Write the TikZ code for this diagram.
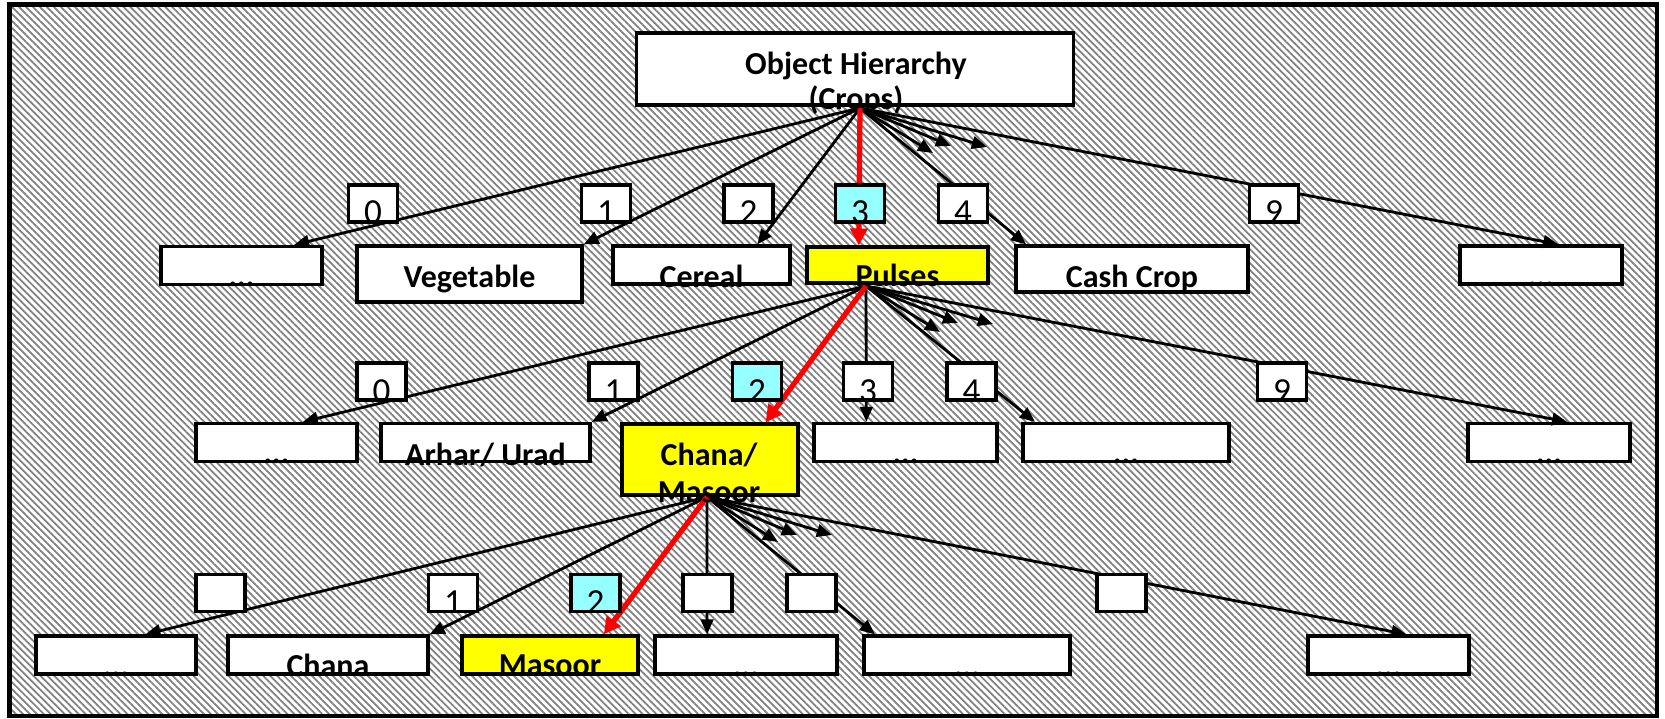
\documentclass[tikz,border=0pt]{standalone}
\usepackage{fontspec}
\setmainfont{Carlito}
\usetikzlibrary{arrows.meta, calc, patterns.meta}

\definecolor{hiyellow}{RGB}{255,255,0}
\definecolor{hicyan}{RGB}{150,255,255}

\tikzset{
	box/.style = {draw, fill=white, line width=0.9pt, inner sep=0pt, minimum height=0.38cm},
	numbox/.style = {box, minimum width=0.49cm, minimum height=0.37cm},
	lbl/.style = {font=\fontsize{9.1}{10}\selectfont\bfseries, anchor=base, inner sep=0pt},
	dots/.style = {lbl, yshift=-0.03cm},
	dig/.style = {font=\fontsize{10}{11}\selectfont, anchor=base, inner sep=0pt},
	link/.style = {line width=0.8pt, -{Triangle[length=4.3pt, width=3.6pt]}},
	hot/.style = {red, line width=1.5pt, -{Triangle[length=4.8pt, width=4.8pt]}}
}

\begin{document}
\begin{tikzpicture}[x=0.01cm, y=-0.01cm]
	\useasboundingbox (0,0) rectangle (1665,719);
	% hatched background and frame
	\fill[pattern={Lines[angle=-45, distance=1.4pt, line width=0.5pt]}, pattern color=gray] (9,4) rectangle (1657,716);
	\draw[line width=1.4pt] (9.5,4.5) rectangle (1657,716);

	% level 0
	\node[box, minimum width=4.36cm, minimum height=0.72cm] (root) at (855,69) {};
	\coordinate (o1) at (860,108);

	% level 1
	\node[box, minimum width=1.61cm] (crA) at (241.5,265.5) {};
	\node[box, minimum width=2.25cm, minimum height=0.56cm] (veg) at (469.5,274) {};
	\node[box, minimum width=1.77cm] (cer) at (701.5,265) {};
	\node[box, fill=hiyellow, minimum width=1.81cm, minimum height=0.36cm] (pul) at (897.5,265) {};
	\node[box, minimum width=2.32cm, minimum height=0.46cm] (cash) at (1132,269) {};
	\node[box, minimum width=1.62cm] (crZ) at (1541,265) {};
	\coordinate (o2) at (866,286);

	% level 2
	\node[box, minimum width=1.61cm] (puA) at (276.5,442.5) {};
	\node[box, minimum width=2.09cm] (arh) at (485.5,442.5) {};
	\node[box, fill=hiyellow, minimum width=1.76cm, minimum height=0.71cm] (chm) at (710,459.5) {};
	\node[box, minimum width=1.83cm] (puC) at (905.5,442.5) {};
	\node[box, minimum width=2.06cm] (puD) at (1126,442.5) {};
	\node[box, minimum width=1.62cm] (puZ) at (1549,442.5) {};
	\coordinate (o3) at (707,497);

	% level 3
	\node[box, minimum width=1.60cm] (cmA) at (116,655) {};
	\node[box, minimum width=2.00cm] (chana) at (328,655) {};
	\node[box, fill=hiyellow, minimum width=1.76cm] (mas) at (550,655) {};
	\node[box, minimum width=1.82cm] (cmC) at (746,655) {};
	\node[box, minimum width=2.06cm] (cmD) at (967,655) {};
	\node[box, minimum width=1.61cm] (cmZ) at (1388.5,655) {};

	% connectors, crops
	\draw[link] (o1) -- ($(crA.north west)!.82!(crA.north east)$);
	\draw[link] (o1) -- (veg.north east);
	\draw[link] (o1) -- ($(cer.north west)!.81!(cer.north east)$);
	\draw[link] (o1) -- ($(cash.north west)!.05!(cash.north east)$);
	\draw[link] (o1) -- ($(crZ.north west)!.605!(crZ.north east)$);
	\foreach \dx/\dy in {73/45, 91/38, 127/39}
		\draw[link] (o1) -- ++(\dx,\dy);
	\draw[hot] (o1) -- ($(pul.north west)!.29!(pul.north east)$);

	% connectors, pulses
	\draw[link] (o2) -- ($(puA.north west)!.66!(puA.north east)$);
	\draw[link] (o2) -- (arh.north east);
	\draw[link] (o2) -- ($(puC.north west)!.29!(puC.north east)$);
	\draw[link] (o2) -- ($(puD.north west)!.065!(puD.north east)$);
	\draw[link] (o2) -- ($(puZ.north west)!.61!(puZ.north east)$);
	\foreach \dx/\dy in {74/46, 92/37, 127/38}
		\draw[link] (o2) -- ++(\dx,\dy);
	\draw[hot] (o2) -- ($(chm.north west)!.81!(chm.north east)$);

	% connectors, chana/masoor
	\draw[link] (o3) -- ($(cmA.north west)!.68!(cmA.north east)$);
	\draw[link] (o3) -- (chana.north east);
	\draw[link] (o3) -- ($(cmC.north west)!.29!(cmC.north east)$);
	\draw[link] (o3) -- ($(cmD.north west)!.06!(cmD.north east)$);
	\draw[link] (o3) -- ($(cmZ.north west)!.61!(cmZ.north east)$);
	\foreach \dx/\dy in {71/45, 90/38, 125/38}
		\draw[link] (o3) -- ++(\dx,\dy);
	\draw[hot] (o3) -- ($(mas.north west)!.80!(mas.north east)$);

	% index boxes
	\node[numbox] (i10) at (373,203.5) {};
	\node[numbox] (i11) at (606,203.5) {};
	\node[numbox] (i12) at (748.5,203.5) {};
	\node[numbox, fill=hicyan] (i13) at (860,203.5) {};
	\node[numbox] (i14) at (963,203.5) {};
	\node[numbox] (i19) at (1274,203.5) {};
	\node[numbox] (i20) at (381.5,381.5) {};
	\node[numbox] (i21) at (613.5,381.5) {};
	\node[numbox, fill=hicyan] (i22) at (757,381.5) {};
	\node[numbox] (i23) at (868,381.5) {};
	\node[numbox] (i24) at (971.5,381.5) {};
	\node[numbox] (i29) at (1282,381.5) {};
	\node[numbox] (i30) at (220.5,593) {};
	\node[numbox] (i31) at (453,593) {};
	\node[numbox, fill=hicyan] (i32) at (595.5,593) {};
	\node[numbox] (i33) at (707.5,593) {};
	\node[numbox] (i34) at (811.5,593) {};
	\node[numbox] (i39) at (1121.5,593) {};

	% digits
	\node[dig] (d10) at (373,224) {0};
	\node[dig] (d11) at (606,224) {1};
	\node[dig] (d12) at (748.5,224) {2};
	\node[dig] (d13) at (860,224) {3};
	\node[dig] (d14) at (963,224) {4};
	\node[dig] (d19) at (1274,224) {9};
	\node[dig] (d20) at (381.5,403) {0};
	\node[dig] (d21) at (613.5,403) {1};
	\node[dig] (d22) at (757,403) {2};
	\node[dig] (d23) at (868,403) {3};
	\node[dig] (d24) at (971.5,403) {4};
	\node[dig] (d29) at (1282,403) {9};
	\node[dig] (d31) at (453,614) {1};
	\node[dig] (d32) at (595.5,614) {2};

	% labels
	\node[lbl] (tRootA) at (856,75) {Object Hierarchy};
	\node[lbl] (tRootB) at (856,110) {(Crops)};
	\node[dots] (tcrA) at (241.5,284) {...};
	\node[lbl] (tveg) at (469.5,288) {Vegetable};
	\node[lbl] (tcer) at (701.5,288) {Cereal};
	\node[lbl] (tpul) at (897.5,287) {Pulses};
	\node[lbl] (tcash) at (1132,288) {Cash Crop};
	\node[dots] (tcrZ) at (1541,284) {...};
	\node[dots] (tpuA) at (276.5,461) {...};
	\node[lbl] (tarh) at (485.5,466) {Arhar/ Urad};
	\node[lbl] (tchmA) at (709,466) {Chana/};
	\node[lbl] (tchmB) at (709,503) {Masoor};
	\node[dots] (tpuC) at (905.5,461) {...};
	\node[dots] (tpuD) at (1126,461) {...};
	\node[dots] (tpuZ) at (1549,461) {...};
	\node[dots] (tcmA) at (116,674) {...};
	\node[lbl] (tchana) at (328,677) {Chana};
	\node[lbl] (tmas) at (550,676) {Masoor};
	\node[dots] (tcmC) at (746,674) {...};
	\node[dots] (tcmD) at (967,674) {...};
	\node[dots] (tcmZ) at (1388.5,674) {...};
\end{tikzpicture}
\end{document}
